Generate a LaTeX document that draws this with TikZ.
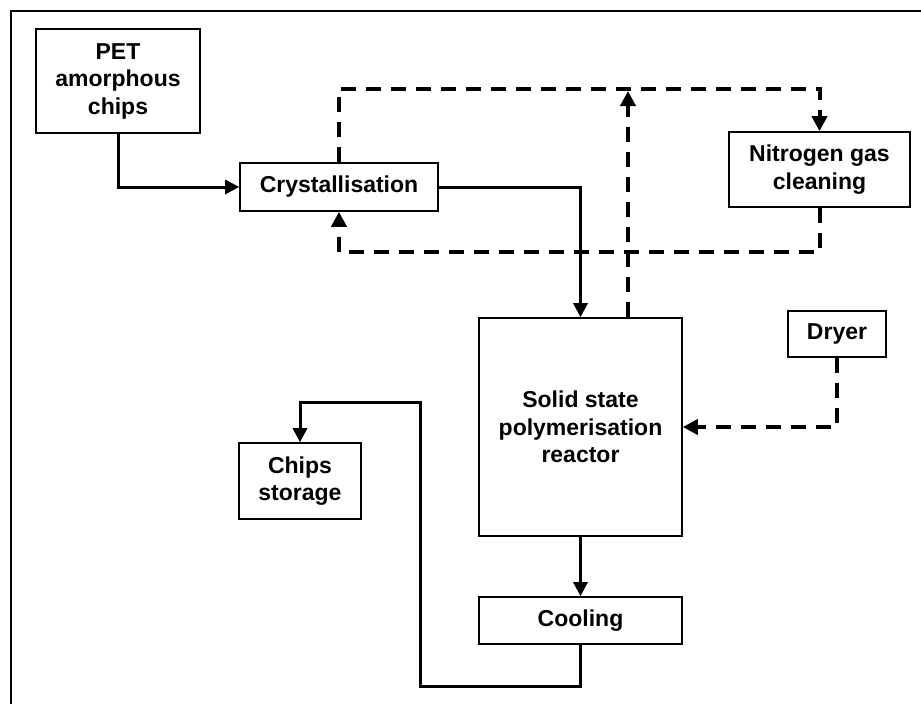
\documentclass[tikz,border=0pt]{standalone}
\usepackage{fontspec}
\setmainfont{Liberation Sans}
\usetikzlibrary{arrows.meta}
\begin{document}
\begin{tikzpicture}[x=1pt,y=-1pt,
  box/.style={draw,line width=1.6pt,rectangle,inner sep=0pt,align=center,
    font=\fontsize{23}{27.5}\selectfont\bfseries},
  flow/.style={line width=3pt,-{Triangle[length=14pt,width=14pt]}},
  gas/.style={line width=4pt,dash pattern=on 15pt off 10pt,-{Triangle[length=15pt,width=15pt]}},
  gasline/.style={line width=4pt,dash pattern=on 15pt off 10pt}]
\useasboundingbox (0,0) rectangle (921,704);
\draw[line width=2.5pt] (11,704) -- (11,11) -- (921,11);
\node[box,minimum width=164pt,minimum height=104pt] (pet) at (118,81) {PET\\amorphous\\chips};
\node[box,minimum width=198pt,minimum height=48pt] (cry) at (339,187) {Crystallisation};
\node[box,minimum width=181pt,minimum height=75pt] (nit) at (819.5,169.5) {Nitrogen gas\\cleaning};
\node[box,minimum width=203pt,minimum height=218pt] (rea) at (580.5,427) {Solid state\\polymerisation\\reactor};
\node[box,minimum width=203pt,minimum height=47pt] (cool) at (580.5,620.5) {Cooling};
\node[box,minimum width=122pt,minimum height=76pt] (chips) at (300,481) {Chips\\storage};
\node[box,minimum width=98pt,minimum height=46pt] (dry) at (837,334) {Dryer};
\coordinate (t1) at (628,91);
\coordinate (c1) at (420,686);
\coordinate (c2) at (420,402);
\draw[flow] (pet.south) |- (cry.west);
\draw[flow] (cry.east) -| (rea.north);
\draw[gas] (cry.north) -- (cry.north |- 0,89) -- (nit.north |- 0,89) -- (nit.north);
\draw[gas] (nit.south) -- (nit.south |- 0,252) -- (cry.south |- 0,252) -- (cry.south);
\draw[gas] (rea.north -| t1) -- (t1);
\draw[gas] (dry.south) |- (rea.east);
\draw[flow] (rea.south) -- (cool.north);
\draw[flow] (cool.south) |- (c1) -- (c2) -| (chips.north);
\end{tikzpicture}
\end{document}
